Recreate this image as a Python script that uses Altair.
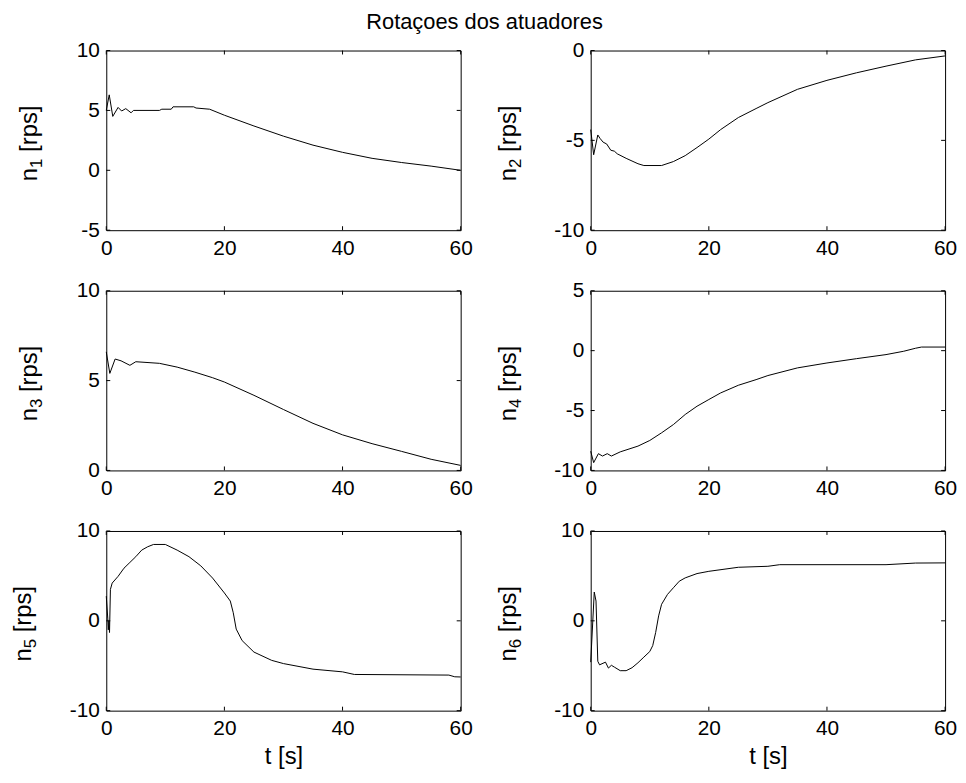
import altair as alt
import pandas as pd

FONT = "Liberation Sans"
W, H = 357, 181
XTICKS = [0, 20, 40, 60]

TITLE = "Rotaçoes dos atuadores"
YBASE = "n"
YUNIT = "[rps]"
XTITLE = "t [s]"
SUBS = ["1", "2", "3", "4", "5", "6"]

t_n1 = [0, 0.5, 1.1, 2.0, 2.6, 3.3, 4.2, 4.6, 9.0, 9.4, 11.0, 11.3, 14.8, 15.2, 17.5, 20, 25, 30, 35, 40, 45, 50, 55, 60]
n1 = [5.0, 6.3, 4.5, 5.25, 4.95, 5.15, 4.8, 5.0, 5.0, 5.1, 5.1, 5.3, 5.3, 5.2, 5.1, 4.6, 3.7, 2.85, 2.1, 1.5, 1.0, 0.65, 0.35, 0.0]

t_n2 = [0, 0.5, 1.2, 1.6, 2.1, 2.7, 3.4, 4.0, 4.5, 6, 8, 9, 12, 14, 16, 18, 20, 22, 25, 28, 30, 35, 40, 45, 50, 55, 60]
n2 = [-4.4, -5.8, -4.7, -4.9, -5.1, -5.2, -5.55, -5.6, -5.75, -6.0, -6.3, -6.4, -6.4, -6.18, -5.85, -5.4, -4.93, -4.4, -3.73, -3.23, -2.9, -2.16, -1.66, -1.24, -0.87, -0.52, -0.3]

t_n3 = [0, 0.6, 1.5, 2.5, 4.0, 5.0, 9.0, 12, 15, 18, 20, 25, 30, 35, 40, 45, 50, 55, 60]
n3 = [6.6, 5.4, 6.2, 6.1, 5.85, 6.05, 5.96, 5.75, 5.47, 5.16, 4.92, 4.18, 3.39, 2.62, 1.98, 1.49, 1.06, 0.62, 0.28]

t_n4 = [0, 0.5, 1.3, 2.0, 2.8, 3.5, 5, 8, 10, 12, 14, 16, 18, 20, 22, 25, 28, 30, 35, 40, 45, 50, 53, 55, 56, 60]
n4 = [-8.4, -9.35, -8.6, -8.8, -8.6, -8.8, -8.45, -7.97, -7.5, -6.86, -6.17, -5.33, -4.64, -4.08, -3.53, -2.89, -2.42, -2.08, -1.44, -1.03, -0.67, -0.33, -0.05, 0.2, 0.3, 0.3]

t_n5 = [0, 0.25, 0.35, 0.45, 0.55, 0.7, 1, 2, 3, 4, 5, 6, 7, 8, 10, 12, 14, 16, 18, 20, 21, 21.5, 22, 23, 25, 28, 30, 35, 40, 42, 58, 59, 60]
n5 = [2.75, 0.3, -1.0, 0.0, -1.3, 3.5, 4.2, 4.95, 5.86, 6.5, 7.14, 7.87, 8.24, 8.5, 8.5, 7.87, 7.14, 6.12, 4.76, 3.1, 2.2, 0.9, -0.92, -2.2, -3.48, -4.4, -4.76, -5.38, -5.68, -5.97, -6.04, -6.23, -6.25]

t_n6 = [0, 0.6, 0.9, 1.2, 1.5, 2.5, 3, 3.5, 4, 5, 6, 7, 8, 9, 10, 10.5, 11, 11.5, 12, 13, 14, 15, 16, 18, 20, 25, 30, 32, 50, 55, 60]
n6 = [-4.6, 3.2, 2.2, -4.5, -4.9, -4.6, -5.26, -4.95, -5.15, -5.55, -5.55, -5.22, -4.67, -4.04, -3.42, -2.76, -1.29, 0.55, 1.84, 2.94, 3.68, 4.41, 4.78, 5.26, 5.51, 5.96, 6.07, 6.25, 6.25, 6.43, 6.45]

# (time, values, y-domain, y ticks, subscript, label baseline x offset, has x title)
panels = [
    (t_n1, n1, [-5, 10], [-5, 0, 5, 10], SUBS[0], -69.5, False),
    (t_n2, n2, [-10, 0], [-10, -5, 0], SUBS[1], -75.5, False),
    (t_n3, n3, [0, 10], [0, 5, 10], SUBS[2], -69.5, False),
    (t_n4, n4, [-10, 5], [-10, -5, 0, 5], SUBS[3], -75.5, False),
    (t_n5, n5, [-10, 10], [-10, 0, 10], SUBS[4], -75.5, True),
    (t_n6, n6, [-10, 10], [-10, 0, 10], SUBS[5], -75.5, True),
]

LABEL_SIZE = 21
TITLE_SIZE = 22
YLAB_SIZE = 24
SUB_SIZE = 17
W_N = 0.556 * YLAB_SIZE
W_SUB = 0.556 * SUB_SIZE
W_SP = 0.278 * YLAB_SIZE
W_UNIT = 1.945 * YLAB_SIZE
L_TOT = W_N + W_SUB + W_SP + W_UNIT
YC = H / 2 + 3


def make_panel(t, v, ydom, yticks, sub, bx, xtitle):
    xs = alt.Scale(domain=[0, 60], nice=False, zero=False)
    ys = alt.Scale(domain=ydom, nice=False, zero=False)
    xaxis_kw = dict(values=XTICKS, ticks=False, tickSize=0, domain=False, grid=False,
                    labelFlush=False, labelPadding=7, labelFont=FONT,
                    labelFontSize=LABEL_SIZE, labelColor="black",
                    labelExpr="toString(datum.value)")
    if xtitle:
        xaxis_kw.update(title=XTITLE, titleFont=FONT, titleFontSize=24,
                        titleFontWeight="normal", titleColor="black", titlePadding=6)
    else:
        xaxis_kw.update(title=None)
    yaxis = alt.Axis(values=yticks, ticks=False, tickSize=0, domain=False, grid=False,
                     labelPadding=7, labelFont=FONT, labelFontSize=LABEL_SIZE,
                     labelColor="black", labelExpr="toString(datum.value)", title=None)
    xaxis = alt.Axis(**xaxis_kw)
    df = pd.DataFrame({"t": t, "v": v})
    line = alt.Chart(df).mark_line(color="black", strokeWidth=1).encode(
        x=alt.X("t:Q", scale=xs, axis=xaxis),
        y=alt.Y("v:Q", scale=ys, axis=yaxis),
    )
    tx_df = pd.DataFrame({"t": XTICKS})
    ty_df = pd.DataFrame({"v": yticks})
    rule = dict(color="black", strokeWidth=1)
    bot = alt.Chart(tx_df).mark_rule(**rule).encode(
        x=alt.X("t:Q", scale=xs, axis=xaxis), y=alt.value(H), y2=alt.value(H - 4))
    top = alt.Chart(tx_df).mark_rule(**rule).encode(
        x=alt.X("t:Q", scale=xs, axis=xaxis), y=alt.value(0), y2=alt.value(4))
    lft = alt.Chart(ty_df).mark_rule(**rule).encode(
        y=alt.Y("v:Q", scale=ys, axis=yaxis), x=alt.value(0), x2=alt.value(4))
    rgt = alt.Chart(ty_df).mark_rule(**rule).encode(
        y=alt.Y("v:Q", scale=ys, axis=yaxis), x=alt.value(W - 4), x2=alt.value(W))

    lab_df = pd.DataFrame({"base": [YBASE], "sub": [sub], "unit": [YUNIT]})
    txt = dict(angle=270, align="left", baseline="alphabetic", font=FONT, color="black")
    y0 = YC + L_TOT / 2
    lab_n = alt.Chart(lab_df).mark_text(fontSize=YLAB_SIZE, **txt).encode(
        text="base:N", x=alt.value(bx), y=alt.value(y0))
    lab_s = alt.Chart(lab_df).mark_text(fontSize=SUB_SIZE, **txt).encode(
        text="sub:N", x=alt.value(bx + 5), y=alt.value(y0 - W_N))
    lab_u = alt.Chart(lab_df).mark_text(fontSize=YLAB_SIZE, **txt).encode(
        text="unit:N", x=alt.value(bx), y=alt.value(y0 - W_N - W_SUB - W_SP))
    return alt.layer(line, bot, top, lft, rgt, lab_n, lab_s, lab_u).properties(
        width=W, height=H)


charts = [make_panel(*p) for p in panels]

chart = alt.concat(
    *charts, columns=2, spacing={"row": 61, "column": 131}, bounds="flush"
).properties(
    title=alt.TitleParams(TITLE, font=FONT, fontSize=TITLE_SIZE, fontWeight="normal",
                          color="black", anchor="middle", offset=5),
    padding={"left": 3, "top": 0, "right": 0, "bottom": 6},
    background="white",
).configure_view(stroke="black", strokeWidth=1)

chart.save("out.html", embed_options={"renderer": "svg", "actions": False})
